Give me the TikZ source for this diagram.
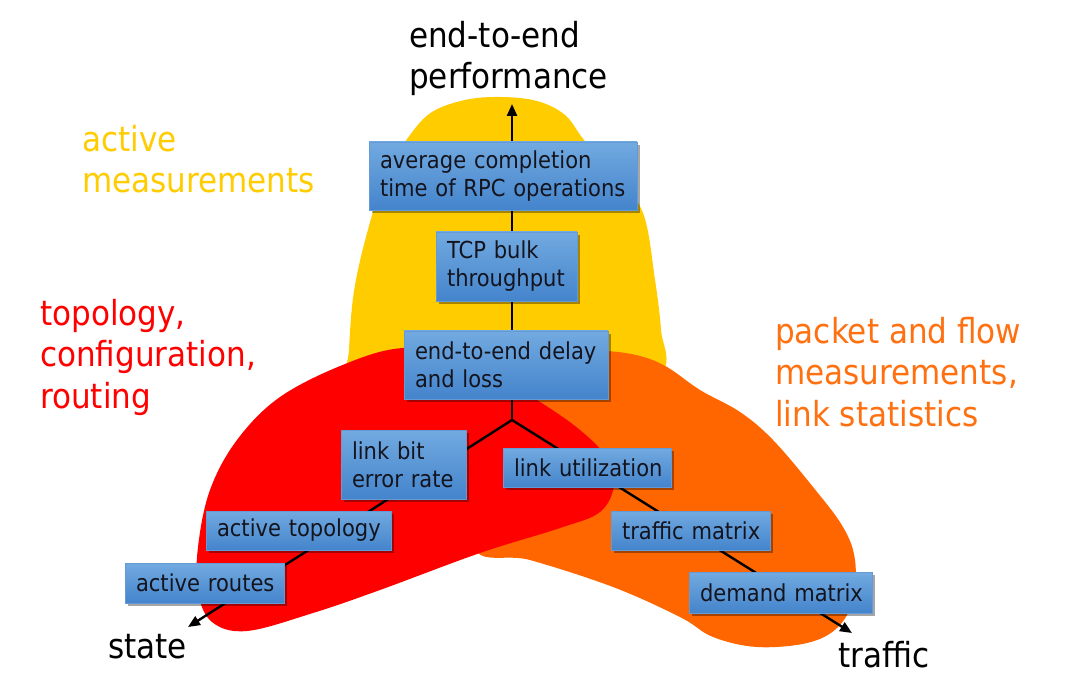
\documentclass[tikz,border=0pt]{standalone}
\usepackage{fontspec}
\setmainfont{DejaVu Sans}[FakeStretch=0.9]
\usetikzlibrary{shadows,arrows.meta}
\definecolor{cyel}{RGB}{255,204,0}
\definecolor{cred}{RGB}{255,0,0}
\definecolor{corg}{RGB}{255,102,0}
\definecolor{corgtxt}{RGB}{255,112,16}
\definecolor{btop}{RGB}{114,170,224}
\definecolor{bbot}{RGB}{68,132,204}
\definecolor{bdraw}{RGB}{100,155,215}
\definecolor{btxt}{RGB}{20,20,30}
\hyphenpenalty=10000
\exhyphenpenalty=10000
\begin{document}
\begin{tikzpicture}[x=1pt,y=-1pt,
  mbox/.style={draw=bdraw, line width=0.8pt, top color=btop, bottom color=bbot,
    inner xsep=11pt, inner ysep=0pt, align=left, text=btxt,
    font=\fontsize{23.4}{28}\selectfont,
    drop shadow={shadow xshift=3pt, shadow yshift=-3pt, opacity=0.35, fill=black}},
  big/.style={font=\fontsize{34.5}{41.5}\selectfont, inner sep=0pt, anchor=base west, align=left},
  axis/.style={line width=2.4pt, -{Triangle[length=12pt,width=10pt]}},
  ]
\fill[white] (0,0) rectangle (1065,692);
\useasboundingbox (0,0) rectangle (1065,692);
% blobs
\fill[cyel] plot[smooth cycle, tension=0.6] coordinates {
  (349,350) (355,285) (373,212) (390,168) (410,135) (432,112) (465,100) (500,97)
  (537,101) (565,115) (584,140) (615,175) (643,213) (655,280) (661,330) (662,375)
  (600,440) (512,460) (420,440) (349,395)};
\fill[corg] plot[smooth cycle, tension=0.6] coordinates {
  (475,548) (530,560) (613,587) (680,617) (713,637) (757,647) (807,643)
  (837,628) (853,600) (855,560) (843,527) (813,487) (773,440) (740,412)
  (700,390) (667,367) (640,356) (607,351) (560,350) (520,385) (495,460)};
\fill[cred] plot[smooth cycle, tension=0.6] coordinates {
  (403,348) (465,356) (537,400) (580,430) (607,458) (614,485) (600,512)
  (560,528) (480,553) (380,590) (313,613) (247,631) (212,622) (198,592)
  (198,547) (210,490) (237,440) (280,397) (345,364)};
% axes
\coordinate (o) at (512,420);
\coordinate (up) at (512,104);
\coordinate (sl) at (188,627);
\coordinate (tr) at (852,633);
\draw[axis] (o) -- (up);
\draw[axis] (o) -- (sl);
\draw[axis] (o) -- (tr);
\fill (o) circle (1.2pt);
% boxes
\node[mbox, text width=246pt, minimum height=68pt] (b1) at (503,176) {average~completion\\time~of~RPC~operations};
\node[mbox, text width=119pt, minimum height=69pt] (b2) at (506.5,266.5) {TCP~bulk\\throughput};
\node[mbox, text width=182pt, minimum height=68pt] (b3) at (506,365) {end-to-end~delay\\and~loss};
\node[mbox, text width=103pt, minimum height=69pt] (b4) at (403.5,464.5) {link~bit\\error~rate};
\node[mbox, text width=163pt, minimum height=39pt] (b5) at (298.5,530.5) {active~topology};
\node[mbox, text width=137pt, minimum height=40pt] (b6) at (204.5,583) {active~routes};
\node[mbox, text width=146pt, minimum height=39pt] (b7) at (587,467.5) {link~utilization};
\node[mbox, text width=137pt, minimum height=39pt] (b8) at (690.5,530.5) {traffic~matrix};
\node[mbox, text width=161pt, minimum height=41pt] (b9) at (780.5,592.5) {demand~matrix};
% labels
\node[big, text=black] (perf) at (409,89) {end-to-end\\performance};
\node[big, text=cyel] (act) at (82,193) {active\\measurements};
\node[big, text=cred] (topo) at (40,408) {topology,\\configuration,\\routing};
\node[big, text=corgtxt] (pkt) at (775,426) {packet and flow\\measurements,\\link statistics};
\node[big, text=black] (state) at (108,658) {state};
\node[big, text=black] (traffic) at (838,667) {traffic};
\end{tikzpicture}
\end{document}
